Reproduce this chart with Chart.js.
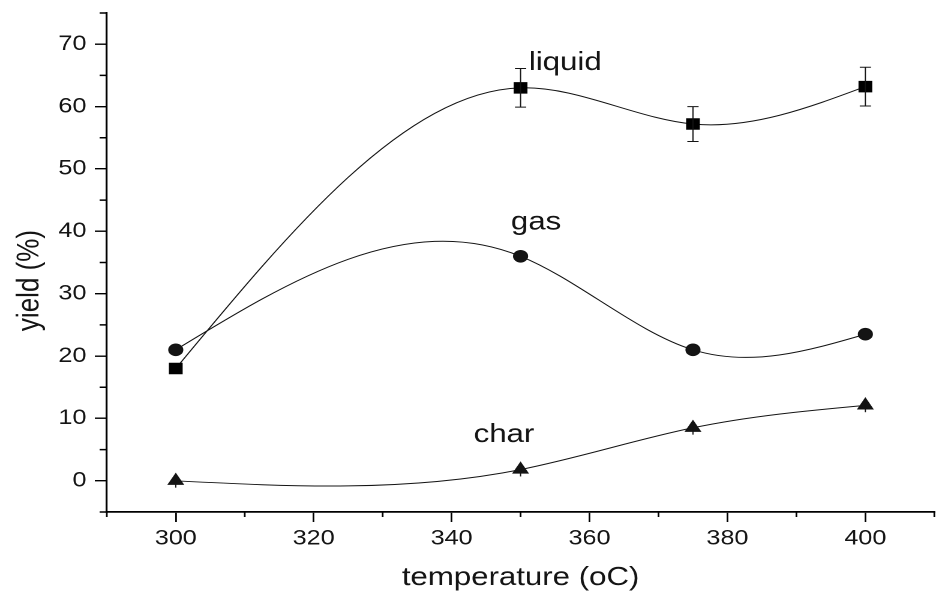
<!DOCTYPE html>
<html>
<head>
<meta charset="utf-8">
<script src="https://cdn.jsdelivr.net/npm/chart.js@4/dist/chart.umd.min.js"></script>
<style>
  html, body { margin: 0; padding: 0; width: 936px; height: 591px; overflow: hidden; background: #fff; }
  /* the plot is laid out narrow and widened horizontally; the x axis runs past the right edge */
  #wrap { position: absolute; left: 0; top: 0; width: 787px; height: 591px; transform: scaleX(1.2); transform-origin: 0 0; }
</style>
</head>
<body>
<div id="wrap"><canvas id="c"></canvas></div>
<script>
// pyrolysis temperature (°C) and product yields (%)
const temperatures = [300, 350, 375, 400];
const liquidYield  = [18.0, 63.0, 57.2, 63.2];
const liquidError  = [0, 3.1, 2.8, 3.1];
const gasYield     = [21.0, 36.0, 21.0, 23.5];
const charYield    = [0.0, 1.8, 8.5, 12.1];
const charError    = [1.1, 1.1, 1.1, 1.1];

// axis ticks
const xTicks      = [300, 320, 340, 360, 380, 400];
const xMinorTicks = [290, 310, 330, 350, 370, 390, 410];
const yTicks      = [0, 10, 20, 30, 40, 50, 60, 70];
const yMinorTicks = [-5, 5, 15, 25, 35, 45, 55, 65, 75];

const xTitle = 'temperature (oC)';
const yTitle = 'yield (%)';

// curve name tags, anchored in data coordinates (left edge, baseline)
const curveTags = [
  { text: 'liquid', x: 351.2, y: 65.9 },
  { text: 'gas',    x: 348.6, y: 40.3 },
  { text: 'char',   x: 343.2, y: 6.25 }
];

const INK = '#141414';
const FONT = '"Liberation Sans", Arial, Helvetica, sans-serif';

const toPoints = (ys) => temperatures.map((t, i) => ({ x: t, y: ys[i] }));

// Natural cubic spline through each line's points, handed to Chart.js as Bezier control points
const naturalSpline = {
  id: 'naturalSpline',
  beforeDatasetDraw(chart, args) {
    const meta = args.meta;
    const line = meta.dataset;
    const pts = meta.data;
    if (!line || pts.length < 3) return;
    const n = pts.length;
    const xs = pts.map(p => p.x), ys = pts.map(p => p.y);
    const h = [];
    for (let i = 0; i < n - 1; i++) h.push(xs[i + 1] - xs[i]);
    const a = [], b = [], c = [], d = [];
    for (let i = 1; i < n - 1; i++) {
      a.push(h[i - 1]); b.push(2 * (h[i - 1] + h[i])); c.push(h[i]);
      d.push(6 * ((ys[i + 1] - ys[i]) / h[i] - (ys[i] - ys[i - 1]) / h[i - 1]));
    }
    const m = b.length;
    for (let i = 1; i < m; i++) {
      const w = a[i] / b[i - 1];
      b[i] -= w * c[i - 1];
      d[i] -= w * d[i - 1];
    }
    const sol = new Array(m);
    sol[m - 1] = d[m - 1] / b[m - 1];
    for (let i = m - 2; i >= 0; i--) sol[i] = (d[i] - c[i] * sol[i + 1]) / b[i];
    const M = new Array(n).fill(0);
    for (let i = 0; i < m; i++) M[i + 1] = sol[i];
    const slope = new Array(n);
    for (let i = 0; i < n - 1; i++) slope[i] = (ys[i + 1] - ys[i]) / h[i] - h[i] * (2 * M[i] + M[i + 1]) / 6;
    slope[n - 1] = (ys[n - 1] - ys[n - 2]) / h[n - 2] + h[n - 2] * (M[n - 2] + 2 * M[n - 1]) / 6;
    for (let i = 0; i < n; i++) {
      const p = pts[i];
      const hl = i > 0 ? h[i - 1] : 0;
      const hr = i < n - 1 ? h[i] : 0;
      p.cp1x = xs[i] - hl / 3; p.cp1y = ys[i] - slope[i] * hl / 3;
      p.cp2x = xs[i] + hr / 3; p.cp2y = ys[i] + slope[i] * hr / 3;
    }
    line._pointsUpdated = true;
    line._path = undefined;
  }
};

// vertical error bars (optional caps)
const errorBars = {
  id: 'errorBars',
  afterDatasetsDraw(chart) {
    const { ctx, scales: { x, y } } = chart;
    chart.data.datasets.forEach(ds => {
      if (!ds.errors) return;
      ctx.save();
      ctx.strokeStyle = INK;
      ctx.lineWidth = 1;
      ds.data.forEach((pt, j) => {
        const e = ds.errors[j];
        if (!e) return;
        const px = x.getPixelForValue(pt.x);
        const top = y.getPixelForValue(pt.y + e);
        const bot = y.getPixelForValue(pt.y - e);
        const cap = ds.errorCap || 0;
        ctx.beginPath();
        ctx.moveTo(px, top); ctx.lineTo(px, bot);
        if (cap) {
          ctx.moveTo(px - cap, top); ctx.lineTo(px + cap, top);
          ctx.moveTo(px - cap, bot); ctx.lineTo(px + cap, bot);
        }
        ctx.stroke();
      });
      ctx.restore();
    });
  }
};

// minor ticks, axis titles and curve names
const decorations = {
  id: 'decorations',
  afterDraw(chart) {
    const { ctx, chartArea: area, scales: { x, y } } = chart;
    ctx.save();
    ctx.strokeStyle = '#000';
    ctx.lineWidth = 1.4;
    ctx.beginPath();
    xMinorTicks.forEach(v => {
      const px = x.getPixelForValue(v);
      ctx.moveTo(px, area.bottom); ctx.lineTo(px, area.bottom + 5);
    });
    yMinorTicks.forEach(v => {
      const py = y.getPixelForValue(v);
      ctx.moveTo(area.left, py); ctx.lineTo(area.left - 6, py);
    });
    ctx.stroke();

    ctx.fillStyle = INK;
    ctx.font = '26px ' + FONT;
    ctx.textAlign = 'center';
    ctx.textBaseline = 'alphabetic';
    ctx.fillText(xTitle, (area.left + area.right) / 2, area.bottom + 73);

    ctx.save();
    ctx.translate(32, (area.top + area.bottom) / 2 + 18);
    ctx.rotate(-Math.PI / 2);
    ctx.fillText(yTitle, 0, 0);
    ctx.restore();

    ctx.textAlign = 'left';
    curveTags.forEach(t => {
      ctx.fillText(t.text, x.getPixelForValue(t.x), y.getPixelForValue(t.y));
    });
    ctx.restore();
  }
};

const tickFont = { family: FONT, size: 21 };

// fixed axis boxes so the plot area sits exactly inside the page
const fixBox = (s, size) => {
  if (s.isHorizontal()) s.height = size; else s.width = size;
  s.paddingTop = 0; s.paddingBottom = 0; s.paddingLeft = 0; s.paddingRight = 0;
};

new Chart(document.getElementById('c'), {
  type: 'line',
  data: {
    datasets: [
      {
        label: 'liquid', data: toPoints(liquidYield), errors: liquidError, errorCap: 4.7,
        borderColor: INK, borderWidth: 1, backgroundColor: '#000',
        pointStyle: 'rect', pointRadius: 7.4, pointBorderWidth: 1, pointBorderColor: '#000', pointBackgroundColor: '#000',
        tension: 0.4, fill: false
      },
      {
        label: 'gas', data: toPoints(gasYield),
        borderColor: INK, borderWidth: 1, backgroundColor: INK,
        pointStyle: 'circle', pointRadius: 5.8, pointBorderWidth: 1, pointBorderColor: INK, pointBackgroundColor: INK,
        tension: 0.4, fill: false
      },
      {
        label: 'char', data: toPoints(charYield), errors: charError, errorCap: 0,
        borderColor: INK, borderWidth: 1, backgroundColor: INK,
        pointStyle: 'triangle', pointRadius: 7.2, pointBorderWidth: 1, pointBorderColor: INK, pointBackgroundColor: INK,
        tension: 0.4, fill: false
      }
    ]
  },
  options: {
    responsive: true,
    maintainAspectRatio: false,
    devicePixelRatio: 2,
    animation: false,
    events: [],
    layout: { padding: { top: 13, right: 2, left: 0, bottom: 0 } },
    plugins: { legend: { display: false }, tooltip: { enabled: false }, title: { display: false } },
    scales: {
      x: {
        type: 'linear', min: 290, max: 410,
        afterBuildTicks: s => { s.ticks = xTicks.map(v => ({ value: v })); },
        afterFit: s => fixBox(s, 79),
        border: { display: true, color: '#000', width: 1.8 },
        grid: { drawOnChartArea: false, drawTicks: true, tickLength: 10, color: '#000', lineWidth: 1.4 },
        ticks: { font: tickFont, color: INK, padding: 4, maxRotation: 0, autoSkip: false }
      },
      y: {
        type: 'linear', min: -5, max: 75,
        afterBuildTicks: s => { s.ticks = yTicks.map(v => ({ value: v })); },
        afterFit: s => fixBox(s, 89),
        border: { display: true, color: '#000', width: 1.6 },
        grid: { drawOnChartArea: false, drawTicks: true, tickLength: 10, color: '#000', lineWidth: 1.4 },
        ticks: { font: tickFont, color: INK, padding: 7, autoSkip: false }
      }
    }
  },
  plugins: [naturalSpline, errorBars, decorations]
});
</script>
</body>
</html>
